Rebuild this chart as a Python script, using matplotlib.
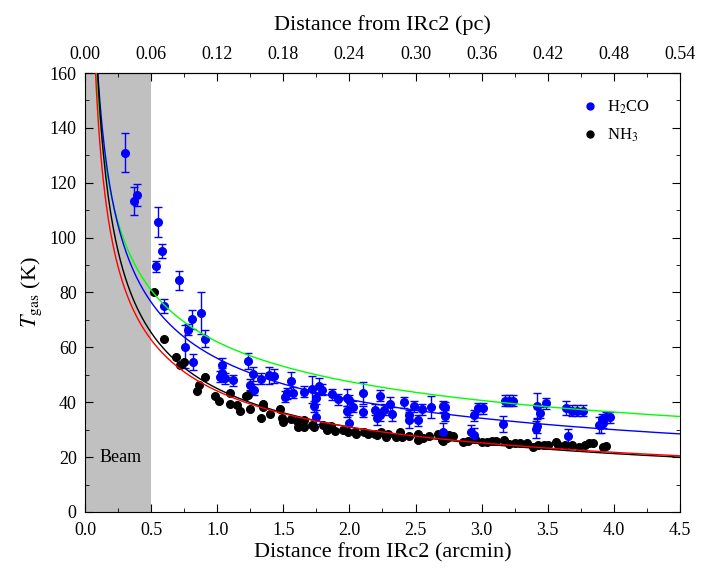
import numpy as np
import matplotlib.pyplot as plt
from matplotlib.ticker import MultipleLocator, FormatStrFormatter
from matplotlib.lines import Line2D

plt.rcParams['font.family'] = ['Liberation Serif', 'DejaVu Serif']
plt.rcParams['mathtext.fontset'] = 'stix'

# H2CO temperatures (arcmin, K, error)
h2co_r = [0.30, 0.37, 0.39, 0.55, 0.58, 0.54, 0.71, 0.595, 0.81, 0.88, 0.78, 0.91, 0.76, 0.82,
          1.04, 1.04, 1.02, 1.06, 1.12, 1.235, 1.27, 1.25, 1.28, 1.33, 1.39, 1.43, 1.56, 1.51,
          1.53, 1.57, 1.66, 1.72, 1.77, 1.79, 1.75, 1.73, 1.75, 1.87, 1.91, 1.98, 2.00, 1.98,
          2.00, 2.03, 2.10, 2.10, 2.19, 2.21, 2.23, 2.23, 2.26, 2.31, 2.32, 2.41, 2.45, 2.45,
          2.49, 2.52, 2.55, 2.62, 2.71, 2.72, 2.72, 2.71, 2.94, 2.97, 3.01, 2.92, 2.94, 3.16,
          3.18, 3.21, 3.24, 3.42, 3.44, 3.49, 3.42, 3.41, 3.65, 3.64, 3.68, 3.72, 3.77, 3.89,
          3.91, 3.94, 3.97, 3.90, 3.92]
h2co_t = [131, 113.3, 115.4, 105.6, 95.2, 89.6, 84.4, 75, 70.3, 72.4, 66.4, 63.2, 60.3, 54.7,
          53.6, 50.6, 49.3, 48.8, 48.1, 55, 50.4, 46.3, 44.5, 48.6, 49.8, 49.6, 47.6, 42,
          43.3, 43.4, 43.8, 44.7, 45.9, 44.5, 41.4, 38.6, 34.7, 42.9, 41.1, 41.7, 40.8, 36.8,
          32.5, 38.4, 43.3, 36.6, 37.2, 34.1, 35.3, 42.3, 37.2, 39.4, 35.6, 40.0, 35.3, 33.5,
          38.6, 33.5, 37.4, 38.2, 38.6, 38.2, 35, 29.3, 35.3, 37.8, 37.8, 29.3, 28.1, 32.1,
          40.5, 40.5, 40.5, 38.7, 36.2, 39.6, 31.3, 30.1, 27.7, 37.8, 36.9, 36.9, 36.9, 31.7,
          33.8, 34.5, 34.5, 31.7, 32.5]
h2co_err = [7, 5, 4, 5.5, 2.5, 2, 3.5, 2.5, 3.5, 7.6, 2, 3, 8, 3,
            2.5, 2, 2, 2, 2, 3, 2.5, 2, 2, 2, 3, 2.5, 3.5, 2,
            2, 2, 2, 5, 3, 2, 2, 2, 2.5, 2, 2, 3, 2, 2,
            3, 2, 4, 2, 2, 2.5, 2, 2, 2, 2.5, 2.5, 2, 2, 3,
            2, 2, 2, 4, 2, 2, 2, 3, 2, 2, 2, 2.5, 2.5, 3,
            2, 2, 2, 4.5, 2, 2, 2.5, 3, 2.5, 2.5, 2, 2, 2, 3,
            2, 2, 2, 3, 2]

# NH3 temperatures (arcmin, K)
nh3_r = [0.52, 0.60, 0.69, 0.72, 0.75, 0.91, 0.86, 0.85, 0.98, 1.01, 1.10, 1.10, 1.15, 1.17,
         1.22, 1.235, 1.25, 1.33, 1.35, 1.35, 1.40, 1.475, 1.49, 1.50, 1.56, 1.60, 1.61, 1.66,
         1.66, 1.72, 1.73, 1.80, 1.83, 1.86, 1.89, 1.95, 1.99, 2.04, 2.05, 2.11, 2.14, 2.19,
         2.21, 2.24, 2.29, 2.28, 2.35, 2.38, 2.40, 2.45, 2.52, 2.52, 2.56, 2.60, 2.67, 2.70,
         2.71, 2.71, 2.74, 2.75, 2.78, 2.86, 2.90, 2.95, 3.00, 3.04, 3.08, 3.11, 3.17, 3.21,
         3.25, 3.29, 3.34, 3.39, 3.43, 3.47, 3.50, 3.56, 3.58, 3.63, 3.68, 3.74, 3.78, 3.81,
         3.84, 3.92, 3.94]
nh3_t = [80, 63.2, 56.6, 53.6, 54.8, 49.3, 46.3, 44.2, 42.3, 40.6, 43.3, 39.2, 38.9, 36.9,
         42.3, 42.6, 37.5, 34.3, 39.4, 38.2, 35.7, 37.6, 34.1, 32.9, 33.9, 33.3, 31.1, 33.5,
         30.9, 31.7, 31.1, 31.7, 29.9, 31.3, 29.5, 29.9, 29.3, 29.0, 28.4, 29.0, 28.4, 28.4,
         28.1, 29.3, 28.4, 27.2, 27.4, 29.3, 27.2, 27.7, 28.4, 26.2, 26.9, 27.7, 28.4, 26.2,
         28.9, 26.0, 26.9, 28.1, 27.7, 25.6, 26.0, 26.5, 25.6, 25.6, 26.0, 26.0, 26.2, 24.8,
         25.0, 25.0, 25.2, 23.8, 24.4, 24.4, 24.4, 25.6, 24.4, 24.4, 24.4, 23.6, 24.4, 25.0,
         25.2, 23.6, 24.2]

# power-law fits T = a * r^-b
fits = {'#00ff00': (62.0, 0.384), '#0000ff': (56.0, 0.45),
        'black': (45.0, 0.54), '#ff0000': (44.1, 0.51)}

beam = 0.5
pc_per_arcmin = 0.12

fig = plt.figure(figsize=(7.10, 5.69), dpi=100)
ax = fig.add_axes([0.1197, 0.1002, 0.8380, 0.7715])

ax.axvspan(0, beam, color='#c0c0c0', lw=0, zorder=0)
ax.text(0.27, 20, 'Beam', ha='center', va='center', fontsize=13)

ax.errorbar(h2co_r, h2co_t, yerr=h2co_err, fmt='o', color='#0000ff', ms=5.5,
            elinewidth=1, capsize=3, capthick=1, zorder=2)
ax.plot(nh3_r, nh3_t, 'o', color='black', ms=5.5, zorder=2)

r = np.linspace(0.03, 4.6, 500)
for c, (a, b) in fits.items():
    ax.plot(r, a * r ** (-b), color=c, lw=1, zorder=3)

ax.set_xlim(0, 4.5)
ax.set_ylim(0, 160)
ax.xaxis.set_major_locator(MultipleLocator(0.5))
ax.xaxis.set_minor_locator(MultipleLocator(0.25))
ax.xaxis.set_major_formatter(FormatStrFormatter('%.1f'))
ax.yaxis.set_major_locator(MultipleLocator(20))
ax.yaxis.set_minor_locator(MultipleLocator(10))
ax.tick_params(which='both', direction='in', right=True, labelsize=13)
ax.tick_params(which='major', length=6)
ax.tick_params(which='minor', length=3)
ax.tick_params(axis='x', pad=7)
ax.tick_params(axis='y', pad=6)
ax.set_xlabel('Distance from IRc2 (arcmin)', fontsize=16, labelpad=3)
ax.set_ylabel(r'$T_{\rm gas}$ (K)', fontsize=16)

top = ax.secondary_xaxis('top', functions=(lambda x: x * pc_per_arcmin,
                                           lambda p: p / pc_per_arcmin))
top.set_xticks(np.arange(0, 0.55, 0.06))
top.xaxis.set_minor_locator(MultipleLocator(0.03))
top.xaxis.set_major_formatter(FormatStrFormatter('%.2f'))
top.tick_params(which='both', direction='in', labelsize=13, pad=7)
top.tick_params(which='major', length=6)
top.tick_params(which='minor', length=3)
top.set_xlabel('Distance from IRc2 (pc)', fontsize=16, labelpad=12)

handles = [Line2D([], [], ls='none', marker='o', color='#0000ff', ms=5),
           Line2D([], [], ls='none', marker='o', color='black', ms=5)]
ax.legend(handles, [r'H$_2$CO', r'NH$_3$'], loc='upper right', bbox_to_anchor=(0.975, 0.975),
          frameon=False, fontsize=12, handletextpad=0.4, handlelength=1.2, labelspacing=0.6)

fig.savefig('out.png', dpi=100)
